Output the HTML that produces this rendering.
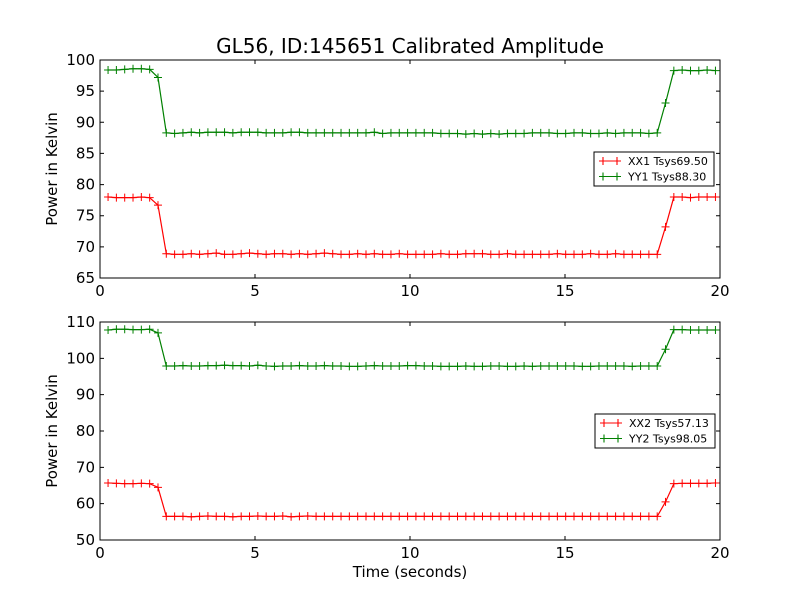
<!DOCTYPE html>
<html><head><meta charset="utf-8"><style>
body{margin:0;background:#fff}
svg{display:block;font-family:"DejaVu Sans","Liberation Sans",sans-serif}
</style></head><body>
<svg id="chart" width="800" height="600" viewBox="0 0 800 600" xmlns="http://www.w3.org/2000/svg">
<rect width="800" height="600" fill="#fff"/>
<text x="410" y="53" font-size="20" text-anchor="middle">GL56, ID:145651 Calibrated Amplitude</text>
<g id="p1"></g>
<g id="p2"></g>
<text x="410" y="577" font-size="15" text-anchor="middle">Time (seconds)</text>
</svg>
<script>
const t0 = 0.26, dt = 0.2684;
const xTicks = [0,5,10,15,20];
const yTicks1 = [65,70,75,80,85,90,95,100];
const yTicks2 = [50,60,70,80,90,100,110];
const xx1 = [78.0,77.9,77.9,77.9,78.0,77.9,76.7,
 68.9,68.8,68.8,68.9,68.8,68.9,69.0,68.8,68.8,68.9,69.0,68.9,68.8,68.9,68.9,68.8,68.9,68.8,68.9,69.0,68.9,68.8,68.8,68.9,68.8,68.9,68.8,68.8,68.9,68.8,68.8,68.8,68.8,68.9,68.8,68.8,68.9,68.9,68.9,68.8,68.8,68.9,68.8,68.8,68.8,68.8,68.8,68.9,68.8,68.8,68.8,68.9,68.8,68.8,68.9,68.8,68.8,68.8,68.8,68.8,
 73.2,78.0,78.0,77.9,78.0,78.0,78.0];
const yy1 = [98.4,98.4,98.5,98.6,98.6,98.5,97.2,
 88.3,88.2,88.3,88.4,88.3,88.4,88.4,88.4,88.3,88.4,88.4,88.4,88.3,88.3,88.3,88.4,88.4,88.3,88.3,88.3,88.3,88.3,88.3,88.3,88.3,88.4,88.2,88.3,88.3,88.3,88.3,88.3,88.3,88.2,88.2,88.2,88.1,88.2,88.1,88.2,88.1,88.2,88.2,88.2,88.3,88.3,88.3,88.2,88.2,88.3,88.3,88.2,88.2,88.3,88.2,88.3,88.3,88.3,88.2,88.3,
 93.1,98.3,98.4,98.3,98.3,98.4,98.3];
const xx2 = [65.7,65.6,65.5,65.5,65.6,65.5,64.5,
 56.5,56.5,56.5,56.4,56.5,56.6,56.5,56.5,56.4,56.5,56.5,56.6,56.5,56.5,56.6,56.4,56.5,56.6,56.5,56.5,56.5,56.5,56.5,56.5,56.5,56.5,56.5,56.5,56.5,56.5,56.5,56.5,56.5,56.5,56.5,56.5,56.5,56.5,56.5,56.5,56.5,56.5,56.5,56.5,56.5,56.5,56.5,56.5,56.5,56.5,56.5,56.5,56.5,56.5,56.5,56.5,56.5,56.5,56.5,56.5,
 60.5,65.5,65.6,65.6,65.6,65.6,65.7];
const yy2 = [107.8,108.0,108.0,107.9,107.9,108.0,107.0,
 97.9,97.9,98.0,97.9,97.9,98.0,98.0,98.1,98.0,98.0,97.9,98.1,97.9,97.8,97.9,97.9,98.0,97.9,97.9,98.0,97.9,97.9,97.8,97.8,97.9,98.0,97.9,97.9,97.9,98.0,98.0,97.9,97.9,97.8,97.8,97.8,97.9,97.8,97.8,97.9,97.9,97.8,97.8,97.9,97.8,97.9,97.9,97.9,97.9,97.9,97.8,97.8,97.9,97.9,97.9,97.9,97.8,97.9,97.9,97.9,
 102.5,107.9,107.9,107.8,107.8,107.8,107.8];

const NS = 'http://www.w3.org/2000/svg';
function mk(tag, attrs, parent){const e=document.createElementNS(NS,tag);for(const k in attrs)e.setAttribute(k,attrs[k]);parent.appendChild(e);return e;}

function panel(g, top, bot, ymin, ymax, yTicks, series, legend){
  const L=100,R=720;
  const xs=v=>L+(v-0)/(20-0)*(R-L);
  const ys=v=>bot-(v-ymin)/(ymax-ymin)*(bot-top);
  series.forEach(s=>{
    const pts=s.vals.map((v,i)=>[xs(t0+i*dt),ys(v)]);
    const pl=mk('polyline',{points:pts.map(p=>p.join(',')).join(' '),fill:'none',stroke:s.color,'stroke-width':1.2},g);
    
    
    let d='';pts.forEach(p=>{d+=`M${p[0]-4},${p[1]}h8M${p[0]},${p[1]-4}v8`;});
    const mp=mk('path',{d:d,stroke:s.color,'stroke-width':1,fill:'none'},g);
    
    
  });
  const fr=mk('rect',{x:L,y:top,width:R-L,height:bot-top,fill:'none',stroke:'#000','stroke-width':1},g);
  
  
  xTicks.forEach(v=>{
    const x=xs(v);
    mk('path',{d:`M${x},${bot}v-4M${x},${top}v4`,stroke:'#000'},g);
    const tx=mk('text',{x:x,y:bot+18,'font-size':15,'text-anchor':'middle'},g);
    tx.textContent=v;
    
    
  });
  yTicks.forEach(v=>{
    const y=ys(v);
    mk('path',{d:`M${L},${y}h4M${R},${y}h-4`,stroke:'#000'},g);
    const tx=mk('text',{x:L-5,y:y+5,'font-size':15,'text-anchor':'end'},g);
    tx.textContent=v;
    
    
  });
  const yl=mk('text',{x:0,y:0,'font-size':15,'text-anchor':'middle',transform:`translate(57,${(top+bot)/2}) rotate(-90)`},g);
  yl.textContent='Power in Kelvin';
  
  
  const lg=mk('g',{},g);
  
  
  mk('rect',{x:legend.x,y:legend.y,width:120,height:34,fill:'#fff',stroke:'#000','stroke-width':1},lg);
  series.forEach((s,i)=>{
    const y=legend.y+9+i*15.5;
    mk('path',{d:`M${legend.x+5},${y}h22M${legend.x+9},${y-4}v8M${legend.x+23},${y-4}v8`,stroke:s.color,'stroke-width':1.1},lg);
    const tx=mk('text',{x:legend.x+34,y:y+4,'font-size':11},lg);
    tx.textContent=s.label;
    
    
  });
}
panel(document.getElementById('p1'),60,278,65,100,yTicks1,
  [{vals:xx1,color:'#ff0000',name:'xx1',label:'XX1 Tsys69.50'},{vals:yy1,color:'#008000',name:'yy1',label:'YY1 Tsys88.30'}],{x:594,y:152});
panel(document.getElementById('p2'),322,540,50,110,yTicks2,
  [{vals:xx2,color:'#ff0000',name:'xx2',label:'XX2 Tsys57.13'},{vals:yy2,color:'#008000',name:'yy2',label:'YY2 Tsys98.05'}],{x:595,y:414});
</script>
</body></html>
